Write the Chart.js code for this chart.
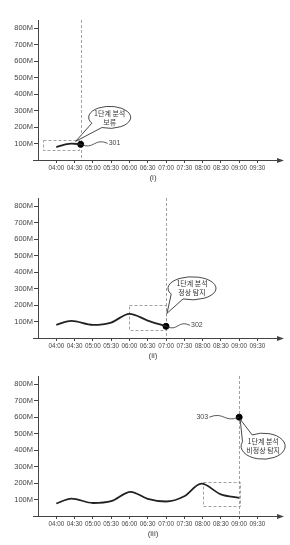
<!DOCTYPE html>
<html>
<head>
<meta charset="utf-8">
<script src="https://cdn.jsdelivr.net/npm/chart.js@4.4.1/dist/chart.umd.min.js"></script>
<style>
  body { margin: 0; background: #fff; width: 290px; height: 545px; position: relative; overflow: hidden; }
  .panel { position: absolute; left: 0; width: 290px; height: 180px; }
</style>
</head>
<body>
<div class="panel" style="top:2px"><canvas id="c1"></canvas></div>
<div class="panel" style="top:180px"><canvas id="c2"></canvas></div>
<div class="panel" style="top:358px"><canvas id="c3"></canvas></div>
<script>
// minutes after 04:00
const timeMinutes = [0, 30, 60, 90, 120, 150, 180, 210, 240, 270, 300, 330];
const timeLabels = ['04:00', '04:30', '05:00', '05:30', '06:00', '06:30', '07:00', '07:30', '08:00', '08:30', '09:00', '09:30'];
const yTicks = [100, 200, 300, 400, 500, 600, 700, 800];

// traffic curves (M)
const curve1Times = [0, 15, 25, 40];
const curve1Values = [78, 95, 100, 95];
const curve2Times = [0, 25, 60, 90, 120, 150, 180];
const curve2Values = [80, 104, 80, 94, 147, 106, 71];
const curve3Times = [0, 25, 60, 90, 122, 150, 180, 210, 238, 270, 300];
const curve3Values = [76, 106, 79, 90, 147, 104, 88, 120, 196, 131, 110];

// detection points
const markTimes = [40, 180, 300];
const markValues = [95, 71, 600];
const refNumbers = ['301', '302', '303'];
const calloutTexts = [['1단계 분석', '보류'], ['1단계 분석', '정상 탐지'], ['1단계 분석', '비정상 탐지']];
const captions = ['(i)', '(ii)', '(iii)'];

// dashed analysis windows [t0, t1, v0, v1]
const windows = [[-21, 38, 58, 120], [120, 180, 50, 200], [240, 300, 60, 205]];

const ink = '#333';
const grey = '#8a8a8a';

const marksPlugin = {
  id: 'marks',
  beforeDatasetsDraw(chart) {
    const o = chart.options.plugins.marks;
    const { ctx, chartArea: a, scales: { x, y } } = chart;
    ctx.save();
    ctx.strokeStyle = grey;
    ctx.lineWidth = 0.8;
    ctx.setLineDash([3, 2]);
    // vertical line at detection time
    const vx = Math.round(x.getPixelForValue(o.mark[0])) + 0.5;
    ctx.beginPath();
    ctx.moveTo(vx, a.top);
    ctx.lineTo(vx, a.bottom);
    ctx.stroke();
    // window box
    const w = o.box;
    const bx0 = x.getPixelForValue(w[0]), bx1 = x.getPixelForValue(w[1]);
    const by0 = y.getPixelForValue(w[2]), by1 = y.getPixelForValue(w[3]);
    ctx.strokeRect(Math.round(bx0) + 0.5, Math.round(by1) + 0.5, Math.round(bx1 - bx0), Math.round(by0 - by1));
    ctx.restore();
  },
  afterDraw(chart) {
    const o = chart.options.plugins.marks;
    const { ctx, chartArea: a, scales: { x, y } } = chart;
    ctx.save();
    // axis arrow + overhang
    ctx.strokeStyle = '#444';
    ctx.fillStyle = '#444';
    ctx.lineWidth = 1;
    ctx.beginPath();
    ctx.moveTo(a.left - 5, a.bottom + 0.5);
    ctx.lineTo(a.left, a.bottom + 0.5);
    ctx.stroke();
    ctx.beginPath();
    ctx.moveTo(a.right + 4, a.bottom + 0.5);
    ctx.lineTo(a.right - 3, a.bottom - 2);
    ctx.lineTo(a.right - 3, a.bottom + 3);
    ctx.closePath();
    ctx.fill();

    const px = x.getPixelForValue(o.mark[0]);
    const py = y.getPixelForValue(o.mark[1]);

    // wavy leader to reference number
    const c = o.ref;
    const lx = px + c.dx, ly = py + c.dy;
    ctx.strokeStyle = ink;
    ctx.lineWidth = 0.8;
    ctx.beginPath();
    ctx.moveTo(px, py);
    const mx = (px + lx) / 2;
    ctx.bezierCurveTo(mx, py + 6, mx, ly - 6, lx, ly);
    ctx.stroke();
    ctx.fillStyle = '#444';
    ctx.font = '7px "Liberation Sans", Arial, sans-serif';
    ctx.textBaseline = 'middle';
    ctx.textAlign = c.dx > 0 ? 'left' : 'right';
    ctx.fillText(o.refText, lx + (c.dx > 0 ? 1 : -1), ly);

    // speech bubble
    const b = o.bubble;
    const cx = px + b.dx, cy = py + b.dy;
    const tx = px + b.tip[0], ty = py + b.tip[1];
    const a1 = b.a1 * Math.PI / 180, a2 = b.a2 * Math.PI / 180;
    ctx.beginPath();
    ctx.ellipse(cx, cy, b.rx, b.ry, 0, a2, a1 + 2 * Math.PI);
    ctx.lineTo(tx, ty);
    ctx.closePath();
    ctx.fillStyle = '#fff';
    ctx.fill();
    ctx.strokeStyle = ink;
    ctx.lineWidth = 0.9;
    ctx.stroke();
    ctx.fillStyle = '#333';
    ctx.font = '7px "Noto Sans CJK KR", sans-serif';
    ctx.textAlign = 'center';
    ctx.fillText(o.text[0], cx, cy - 4.5);
    ctx.fillText(o.text[1], cx, cy + 4.5);

    // caption
    ctx.font = '8px "Liberation Sans", Arial, sans-serif';
    ctx.fillStyle = '#444';
    ctx.fillText(o.caption, (a.left + a.right) / 2 - 6, a.bottom + 18);
    ctx.restore();
  }
};

function makeChart(id, times, values, idx, bubble, ref) {
  const tickFont = { family: '"Liberation Sans", Arial, sans-serif', size: 6.3 };
  new Chart(document.getElementById(id), {
    type: 'line',
    data: {
      datasets: [
        {
          data: times.map((t, i) => ({ x: t, y: values[i] })),
          borderColor: '#222',
          borderWidth: 1.8,
          pointRadius: 0,
          cubicInterpolationMode: 'monotone',
          clip: false
        },
        {
          data: [{ x: markTimes[idx], y: markValues[idx] }],
          showLine: false,
          pointRadius: 3,
          pointBackgroundColor: '#000',
          pointBorderColor: '#000',
          clip: false
        }
      ]
    },
    options: {
      responsive: true,
      maintainAspectRatio: false,
      animation: false,
      layout: { padding: { top: 18, right: 10, left: 0, bottom: 0 } },
      plugins: {
        legend: { display: false },
        tooltip: { enabled: false },
        marks: {
          mark: [markTimes[idx], markValues[idx]],
          box: windows[idx],
          text: calloutTexts[idx],
          refText: refNumbers[idx],
          caption: captions[idx],
          bubble: bubble,
          ref: ref
        }
      },
      scales: {
        x: {
          type: 'linear',
          min: -30,
          max: 367,
          afterFit(s) { s.height = 22; },
          afterBuildTicks(s) { s.ticks = timeMinutes.map(v => ({ value: v })); },
          ticks: {
            autoSkip: false,
            maxRotation: 0,
            padding: 1,
            color: '#444',
            font: tickFont,
            callback(v) { return timeLabels[timeMinutes.indexOf(v)]; }
          },
          grid: { drawOnChartArea: false, tickLength: 3, color: '#444' },
          border: { color: '#444', width: 1 }
        },
        y: {
          min: 0,
          max: 850,
          afterFit(s) { s.width = 38; },
          afterBuildTicks(s) { s.ticks = yTicks.map(v => ({ value: v })); },
          ticks: {
            padding: 1,
            color: '#444',
            font: { family: '"Liberation Sans", Arial, sans-serif', size: 7.5 },
            callback(v) { return v + 'M'; }
          },
          grid: { drawOnChartArea: false, tickLength: 4, color: '#444' },
          border: { color: '#444', width: 1 }
        }
      }
    },
    plugins: [marksPlugin]
  });
}

makeChart('c1', curve1Times, curve1Values, 0,
  { dx: 29, dy: -27, rx: 21, ry: 11, a1: 112, a2: 148, tip: [-5, -3] },
  { dx: 27, dy: -1 });
makeChart('c2', curve2Times, curve2Values, 1,
  { dx: 26, dy: -38, rx: 24, ry: 11.5, a1: 112, a2: 150, tip: [1, -13] },
  { dx: 24, dy: -1 });
makeChart('c3', curve3Times, curve3Values, 2,
  { dx: 24, dy: 29, rx: 22, ry: 13, a1: 200, a2: 240, tip: [1, 2] },
  { dx: -30, dy: 0 });
</script>
</body>
</html>
